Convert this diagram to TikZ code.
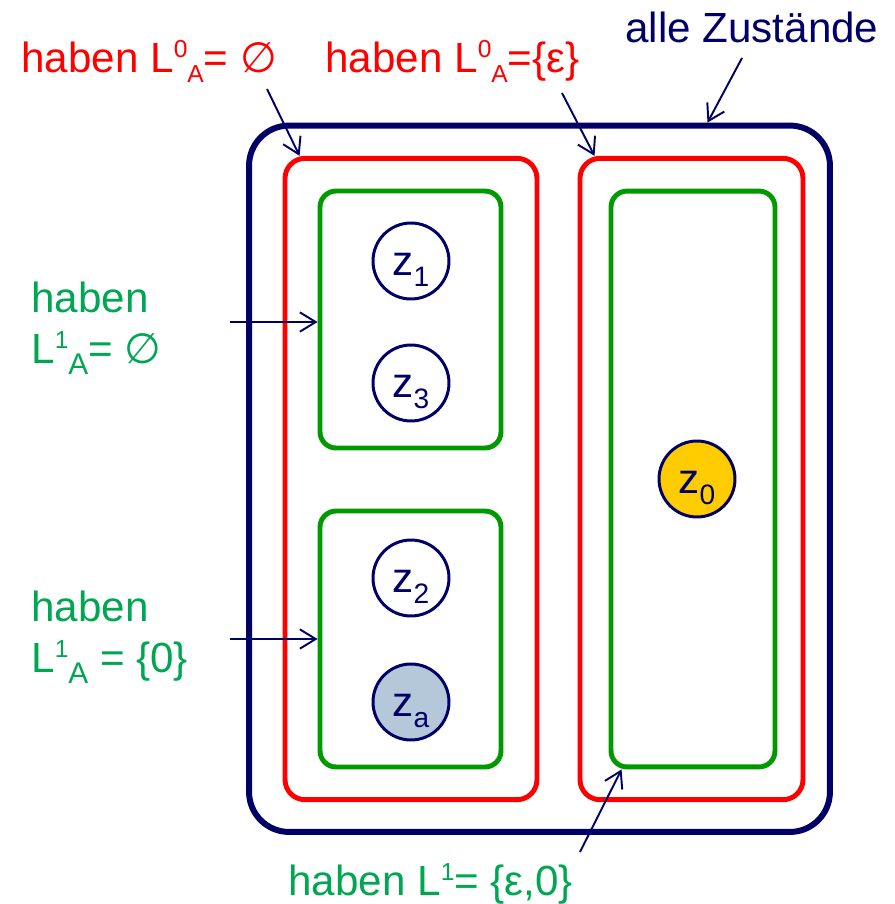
\documentclass[tikz,border=0pt]{standalone}
\usepackage{fontspec}
\setmainfont{Liberation Sans}
\newfontfamily\symfont{DejaVu Sans}
\usetikzlibrary{arrows.meta,calc}
\definecolor{navy}{HTML}{000066}
\definecolor{redline}{HTML}{FF0000}
\definecolor{greenline}{HTML}{009900}
\definecolor{greentxt}{HTML}{00A651}
\definecolor{zafill}{HTML}{B4C8DA}
\definecolor{zofill}{HTML}{FFCC00}

\newcommand{\hoch}[1]{\raisebox{8pt}{\fontsize{14}{14}\selectfont #1}}
\newcommand{\tief}[1]{\raisebox{-5.7pt}{\fontsize{14}{14}\selectfont #1}}
\newcommand{\tiefer}[1]{\raisebox{-6.5pt}{\fontsize{17}{17}\selectfont #1}}
\newcommand{\zsub}[1]{\raisebox{-6.6pt}{\fontsize{16}{16}\selectfont #1}}
\newcommand{\leer}{{\symfont ∅}}
\newcommand{\lblfont}{\fontsize{24}{28.5}\selectfont\lineskiplimit-10pt\relax}

\begin{document}
\begin{tikzpicture}[
  x=0.02cm, y=-0.02cm,
  menge/.style={draw=#1, inner sep=0pt},
  zustand/.style={circle, draw=navy, line width=1.7pt, minimum size=1.52cm, inner sep=0pt,
    text=navy, font=\fontsize{24}{24}\selectfont, text height=16pt, text depth=0pt},
  lbl/.style={anchor=base west, inner sep=0pt, font=\lblfont},
  zeiger/.style={-{Straight Barb[length=9pt,width=11pt]}, draw=navy, line width=1.1pt},
]
\useasboundingbox (0,0) rectangle (895,904);

% Mengen
\node[menge=navy, line width=3.4pt, rounded corners=0.8cm, minimum width=11.62cm, minimum height=14.13cm] (aussen) at (539.5,478.75) {};
\node[menge=redline, line width=2.8pt, rounded corners=0.4cm, minimum width=5.04cm, minimum height=12.83cm] (redL) at (411,479) {};
\node[menge=redline, line width=2.8pt, rounded corners=0.4cm, minimum width=4.46cm, minimum height=12.83cm] (redR) at (691.5,479) {};
\node[menge=greenline, line width=2.8pt, rounded corners=0.32cm, minimum width=3.62cm, minimum height=5.14cm] (gTop) at (410.5,319.5) {};
\node[menge=greenline, line width=2.8pt, rounded corners=0.32cm, minimum width=3.62cm, minimum height=5.12cm] (gBot) at (410.5,639) {};
\node[menge=greenline, line width=2.8pt, rounded corners=0.32cm, minimum width=3.28cm, minimum height=11.52cm] (gRight) at (693,479) {};

% Zustaende
\node[zustand] (z1) at (411,261) {z\zsub{1}};
\node[zustand] (z3) at (411,383) {z\zsub{3}};
\node[zustand] (z2) at (411,578) {z\zsub{2}};
\node[zustand, fill=zafill] (za) at (411,702) {z\zsub{a}};
\node[zustand, fill=zofill] (z0) at (697,479) {z\zsub{0}};

% Beschriftungen
\node[lbl, text=redline] (lNull) at (21,72) {haben L\hoch{0}\tief{A}= \leer};
\node[lbl, text=redline] (lEps) at (325,72) {haben L\hoch{0}\tief{A}=\{ε\}};
\node[lbl, text=navy] (lAlle) at (625,42) {alle Zustände};
\node[lbl, text=greentxt, align=left] (lLeer) at (31,363) {haben\\L\hoch{1}\tiefer{A}= \leer};
\node[lbl, text=greentxt, align=left] (lNul) at (31,672) {haben\\L\hoch{1}\tiefer{A} = \{0\}};
\node[lbl, text=greentxt] (lBeide) at (288,895) {haben L\hoch{1}= \{ε,0\}};

% Pfeile
\coordinate (sNull) at (267,89);
\coordinate (sEps) at (562,93);
\coordinate (sAlle) at (742,58);
\coordinate (sLeer) at (230,322);
\coordinate (sNul) at (230,639);
\coordinate (sBeide) at (580,852);
\draw[zeiger] (sNull) -- ($(redL.north west)+(17,0)$);
\draw[zeiger] (sEps) -- ($(redR.north west)+(17,0)$);
\draw[zeiger] (sAlle) -- ($(aussen.north)+(168,0)$);
\draw[zeiger] (sLeer) -- (sLeer -| gTop.west);
\draw[zeiger] (sNul) -- (sNul -| gBot.west);
\draw[zeiger] (sBeide) -- ($(gRight.south west)+(13,0)$);

\end{tikzpicture}
\end{document}
